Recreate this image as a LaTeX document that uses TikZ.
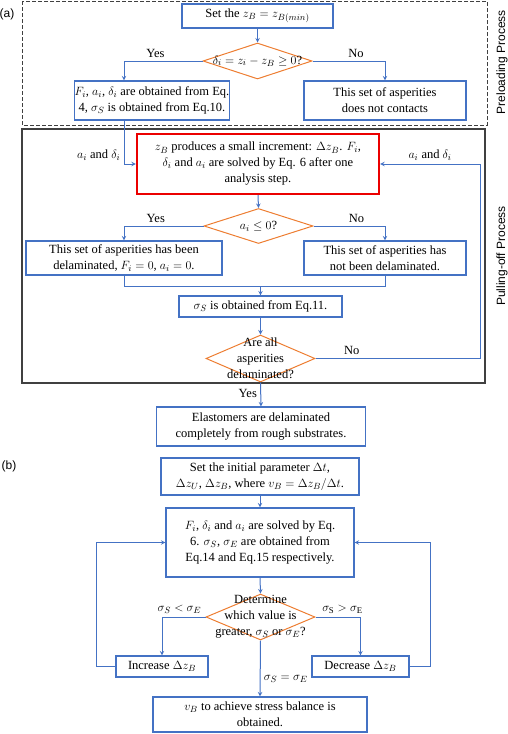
\documentclass[tikz,border=0pt]{standalone}
\usepackage{amsmath}
\usepackage{fontspec}
\setmainfont{Liberation Serif}
\setsansfont{Liberation Sans}
\usepackage{xcolor}
\usetikzlibrary{shapes.geometric}
\definecolor{bleu}{RGB}{68,114,196}
\definecolor{orangeo}{RGB}{237,125,49}
\definecolor{rouge}{RGB}{235,0,0}

\begin{document}
\begin{tikzpicture}[x=1pt,y=-1pt,>=stealth,font=\fontsize{12.5}{16}\selectfont,
	boite/.style={draw=bleu,line width=1.1pt,align=center,inner sep=0pt},
	losange/.style={diamond,draw=orangeo,line width=1pt,inner sep=0pt},
	fleche/.style={draw=bleu,line width=1pt,->},
	ligne/.style={draw=bleu,line width=1pt},
	titre/.style={font=\sffamily\fontsize{12}{14}\selectfont}]
	\useasboundingbox (0,0) rectangle (508,734);
	\draw[dash pattern=on 4pt off 2pt,black!75,line width=1pt] (22,1) rectangle (487,125); % cadre du préchargement
	\draw[black!75,line width=1.1pt] (22,129) rectangle (485,383); % cadre de l'arrachement
	\node[titre] (pa) at (7,14) {(a)};
	\node[titre] (pb) at (9,466) {(b)};
	\node[titre,rotate=90] (pre) at (502,62) {Preloading Process};
	\node[titre,rotate=90] (pull) at (502,256) {Pulling-off Process};
	\coordinate (retour) at (480,0);
	\coordinate (gauche) at (96,0);
	\coordinate (droite) at (430,0);
	\coordinate (fusion) at (260.5,286);
	% partie (a)
	\node[boite,minimum width=151pt,minimum height=24pt] (b1) at (257.5,16) {Set the $z_B=z_{B(min)}$};
	\node[losange,minimum width=109pt,minimum height=36pt] (d1) at (257.5,61) {};
	\node (d1t) at (d1) {$\delta_i=z_i-z_B\geq 0$?};
	\node[boite,minimum width=140pt,minimum height=39pt] (b2) at (152,100.5) {$F_i$, $a_i$, $\delta_i$ are obtained from Eq.\\4, $\sigma_S$ is obtained from Eq.10.};
	\node[boite,minimum width=162pt,minimum height=39pt] (b3) at (385,100.5) {This set of asperities\\does not contacts};
	\node[boite,draw=rouge,line width=2.3pt,minimum width=242pt,minimum height=60pt] (b4) at (258,164) {$z_B$ produces a small increment: $\Delta z_B$. $F_i$,\\$\delta_i$ and $a_i$ are solved by Eq. 6 after one\\analysis step.};
	\node[losange,minimum width=109pt,minimum height=35pt] (d2) at (258.5,226) {};
	\node (d2t) at (d2) {$a_i\leq 0$?};
	\node[boite,minimum width=196pt,minimum height=34pt] (b5) at (124,258) {This set of asperities has been\\delaminated, $F_i=0$, $a_i=0$.};
	\node[boite,minimum width=162pt,minimum height=34pt] (b6) at (385,258) {This set of asperities has\\not been delaminated.};
	\node[boite,minimum width=163pt,minimum height=21pt] (b7) at (260.5,306.5) {$\sigma_S$ is obtained from Eq.11.};
	\node[losange,minimum width=109pt,minimum height=47pt] (d3) at (260.5,358.5) {};
	\node[align=center] (d3t) at (d3) {Are all\\asperities\\delaminated?};
	\node[boite,minimum width=209pt,minimum height=39pt] (b8) at (261,426.5) {Elastomers are delaminated\\completely from rough substrates.};
	\draw[fleche] (b1.south) -- (d1.north);
	\draw[fleche] (d1.west) -| node[pos=0.3,above]{Yes} ([xshift=-28pt]b2.north);
	\draw[fleche] (d1.east) -| node[pos=0.3,above]{No} (b3.north);
	\draw[fleche] ([xshift=-28pt]b2.south) |- node[pos=0.5,above left]{$a_i$ and $\delta_i$} (b4.west);
	\draw[fleche] (b4.south) -- (d2.north);
	\draw[fleche] (d2.west) -| node[pos=0.3,above]{Yes} (b5.north);
	\draw[fleche] (d2.east) -| node[pos=0.3,above]{No} (b6.north);
	\draw[ligne] (b5.south) |- (b6.south |- fusion) -- (b6.south);
	\draw[fleche] (fusion) -- (b7.north);
	\draw[fleche] (b7.south) -- (d3.north);
	\draw[fleche] (d3.east) -- node[pos=0.22,above]{No} (d3.east -| retour) |- node[pos=0.75,above]{$a_i$ and $\delta_i$} (b4.east);
	\draw[fleche] (d3.south) -- node[pos=0.45,left]{Yes} (b8.north);
	% partie (b)
	\node[boite,minimum width=198pt,minimum height=37pt] (c1) at (260,476.5) {Set the initial parameter $\Delta t$,\\$\Delta z_U$, $\Delta z_B$, where $v_B=\Delta z_B/\Delta t$.};
	\node[boite,minimum width=188pt,minimum height=69pt] (c2) at (260,542.5) {$F_i$, $\delta_i$ and $a_i$ are solved by Eq.\\6. $\sigma_S$, $\sigma_E$ are obtained from\\Eq.14 and Eq.15 respectively.};
	\node[losange,minimum width=109pt,minimum height=46pt] (d4) at (260.5,617) {};
	\node[align=center] (d4t) at (d4) {Determine\\which value is\\greater, $\sigma_S$ or $\sigma_E$?};
	\node[boite,minimum width=92pt,minimum height=21pt] (c3) at (162,666.5) {Increase $\Delta z_B$};
	\node[boite,minimum width=97pt,minimum height=21pt] (c4) at (360.5,666.5) {Decrease $\Delta z_B$};
	\node[boite,minimum width=214pt,minimum height=35pt] (c5) at (260,714.5) {$v_B$ to achieve stress balance is\\obtained.};
	\draw[fleche] (c1.south) -- (c2.north);
	\draw[fleche] (c2.south) -- (d4.north);
	\draw[fleche] (d4.west) -| node[pos=0.3,above]{$\sigma_S<\sigma_E$} (c3.north);
	\draw[fleche] (d4.east) -| node[pos=0.3,above]{$\sigma_{\mathrm{S}}>\sigma_{\mathrm{E}}$} (c4.north);
	\draw[fleche] (d4.south) -- node[pos=0.68,right]{$\sigma_S=\sigma_E$} (c5.north);
	\draw[fleche] (c3.west) -- (c3.west -| gauche) |- (c2.west);
	\draw[fleche] (c4.east) -- (c4.east -| droite) |- (c2.east);
\end{tikzpicture}
\end{document}
